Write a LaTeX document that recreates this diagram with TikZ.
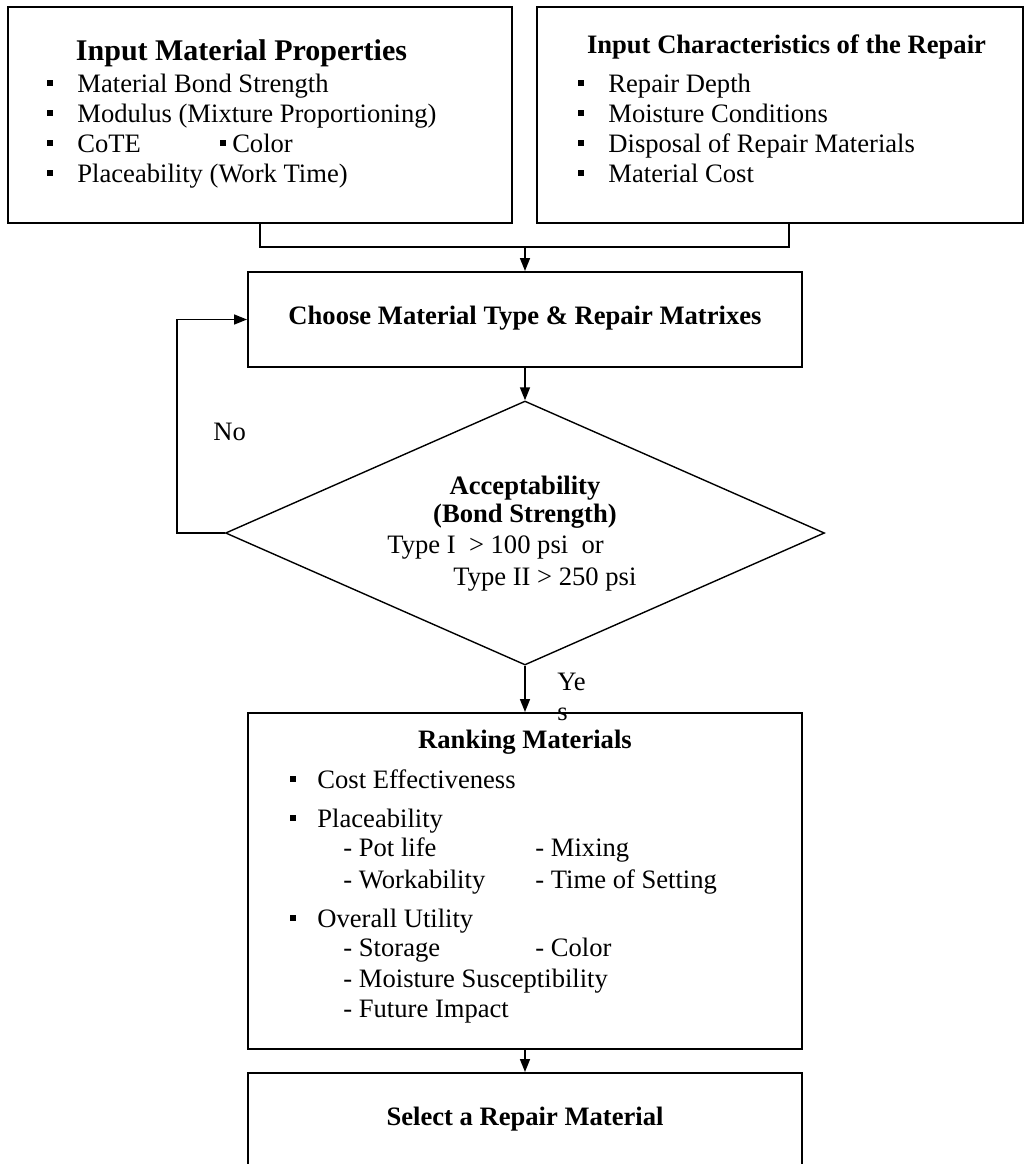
\documentclass[tikz,border=0pt]{standalone}
\usepackage{fontspec}
\setmainfont{Liberation Serif}
\usetikzlibrary{arrows.meta,shapes.geometric}
\newcommand{\sqbul}{\raisebox{3.2pt}{\rule{2.6pt}{2.6pt}}}
\begin{document}
\begin{tikzpicture}
[x=0.5pt,y=-0.5pt,%
 boxstyle/.style={draw,line width=1pt,inner sep=0pt},%
 diamstyle/.style={draw,diamond,line width=0.7pt,inner sep=0pt},%
 linestyle/.style={line width=0.8pt},%
 arrowstyle/.style={line width=0.8pt,-{Triangle[length=6.5pt,width=5pt]}},%
 headstyle/.style={font=\bfseries\fontsize{13.3}{15}\selectfont,inner sep=0pt,anchor=base},%
 itemstyle/.style={font=\fontsize{13.3}{15}\selectfont,inner sep=0pt,anchor=base west}]
\useasboundingbox (0,0) rectangle (1029,1164);
%% boxes and decision
\node[boxstyle,minimum width=252pt,minimum height=108pt] (matbox) at (260,115) {};
\node[boxstyle,minimum width=243pt,minimum height=108pt] (repbox) at (780,115) {};
\node[boxstyle,minimum width=277pt,minimum height=47.5pt] (choosebox) at (525,319.5) {};
\node[diamstyle,minimum width=299.5pt,minimum height=132pt] (accept) at (525,533) {};
\node[boxstyle,minimum width=277pt,minimum height=168pt] (rankbox) at (525,881) {};
\node[boxstyle,minimum width=277pt,minimum height=53.5pt] (selectbox) at (525,1126.5) {};
%% input material properties
\node[headstyle,font=\bfseries\fontsize{15}{17}\selectfont] (mattitle) at (241.5,60) {Input Material Properties};
\foreach \t [count=\i] in {Material Bond Strength,Modulus (Mixture Proportioning),CoTE,Placeability (Work Time)}
  \node[itemstyle] (matitem\i) at (47,{62+30*\i}) {\makebox[15pt][l]{\sqbul}\t};
\node[itemstyle] (coloritem) at (220,152) {\sqbul\ Color};
%% input characteristics of the repair
\node[headstyle] (reptitle) at (786.5,53) {Input Characteristics of the Repair};
\foreach \t [count=\i] in {Repair Depth,Moisture Conditions,Disposal of Repair Materials,Material Cost}
  \node[itemstyle] (repitem\i) at (578,{62+30*\i}) {\makebox[15pt][l]{\sqbul}\t};
%% choose and acceptability
\node[headstyle] (choosetext) at (525,324) {Choose Material Type \& Repair Matrixes};
\node[headstyle] (accepttitle) at (525,494) {Acceptability};
\node[headstyle] (acceptsub) at (525,522) {(Bond Strength)};
\node[itemstyle] (typeone) at (387,553) {Type I\ \ > 100 psi\ \ or};
\node[itemstyle] (typetwo) at (453,585) {Type II > 250 psi};
\node[itemstyle] (nolabel) at (213,440) {No};
\node[itemstyle] (yeslabel) at (557,690) {Ye};
\node[itemstyle] (yeslabelb) at (557,720) {s};
%% ranking materials
\node[headstyle] (ranktitle) at (525,748) {Ranking Materials};
\foreach \t/\y [count=\i] in {Cost Effectiveness/788,Placeability/827,Overall Utility/927}
  \node[itemstyle] (rankitem\i) at (290,\y) {\makebox[13.5pt][l]{\sqbul}\t};
\foreach \t/\x/\y [count=\i] in {- Pot life/343/856,- Mixing/535/856,- Workability/343/888,- Time of Setting/535/888,- Storage/343/956,- Color/535/956,- Moisture Susceptibility/343/987,- Future Impact/343/1017}
  \node[itemstyle] (subitem\i) at (\x,\y) {\t};
\node[headstyle] (selecttext) at (525,1125) {Select a Repair Material};
%% connectors
\coordinate (join) at (525,247);
\coordinate (noturn) at (177,533);
\draw[linestyle] (matbox.south) |- (join) -| ([xshift=4.5pt]repbox.south);
\draw[arrowstyle] (join) -- (choosebox);
\draw[arrowstyle] (choosebox) -- (accept);
\draw[arrowstyle] (accept.west) -- (noturn) |- (choosebox.west);
\draw[arrowstyle] (accept) -- (rankbox);
\draw[arrowstyle] (rankbox) -- (selectbox);
\end{tikzpicture}
\end{document}
